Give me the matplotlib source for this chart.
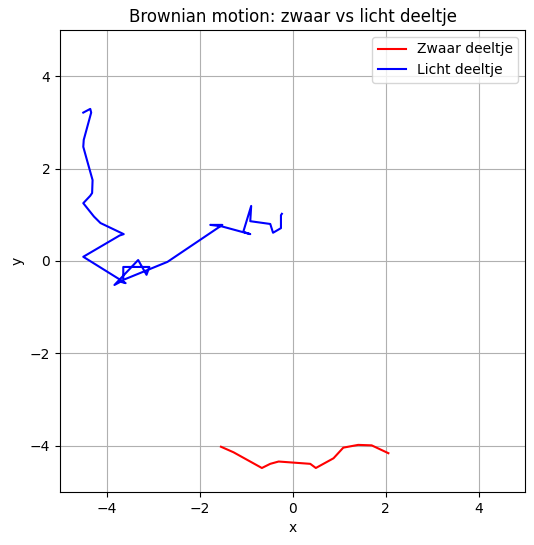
import numpy as np
import matplotlib
matplotlib.use("Agg")
import matplotlib.pyplot as plt

# zwaar deeltje (heavy particle)
zwaar_x = [-1.54, -1.27, -0.66, -0.48, -0.30, 0.38, 0.50, 0.88, 1.09, 1.41, 1.70, 2.06]
zwaar_y = [-4.02, -4.14, -4.48, -4.39, -4.34, -4.39, -4.48, -4.27, -4.04, -3.98, -3.99, -4.16]

# licht deeltje (light particle)
licht_x = [-4.50, -4.35, -4.33, -4.49, -4.50, -4.42, -4.30, -4.31, -4.35, -4.50,
           -4.27, -4.13, -3.63, -3.72, -4.50, -3.59, -3.70, -3.83, -3.32, -3.14,
           -3.08, -3.64, -3.64, -2.69, -1.51, -1.77, -1.53, -0.91, -1.06, -0.89,
           -0.91, -0.48, -0.42, -0.25, -0.25, -0.23]
licht_y = [3.21, 3.29, 3.21, 2.62, 2.47, 2.18, 1.75, 1.47, 1.41, 1.25,
           0.96, 0.82, 0.58, 0.55, 0.09, -0.48, -0.45, -0.52, 0.02, -0.30,
           -0.13, -0.13, -0.41, -0.02, 0.78, 0.78, 0.75, 0.58, 0.63, 1.19,
           0.86, 0.80, 0.61, 0.71, 0.99, 1.02]

fig = plt.figure(figsize=(5.34, 5.45), dpi=100)
ax = fig.add_axes([0.1124, 0.0972, 0.871, 0.848])
ax.plot(zwaar_x, zwaar_y, color='red', label='Zwaar deeltje')
ax.plot(licht_x, licht_y, color='blue', label='Licht deeltje')
ax.set_xlim(-5, 5)
ax.set_ylim(-5, 5)
ax.set_title('Brownian motion: zwaar vs licht deeltje')
ax.set_xlabel('x')
ax.set_ylabel('y')
ax.legend(loc='upper right')
ax.grid(True)
fig.savefig('out.png', dpi=100)
